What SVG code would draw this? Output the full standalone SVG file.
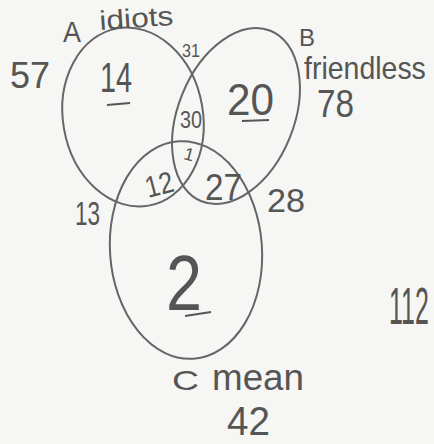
<svg xmlns="http://www.w3.org/2000/svg" width="434" height="444" viewBox="0 0 434 444">
<style>
.c{fill:none;stroke:#666;stroke-width:2}
.t{font-family:"Liberation Sans",Arial,sans-serif;fill:#555}
.u{stroke:#555;stroke-width:1.8}
</style>
<rect width="434" height="444" fill="#f6f6f4"/>
<g id="connectors"></g>
<g id="setA"><ellipse class="c" cx="133" cy="117" rx="70" ry="90" transform="rotate(-10 133 117)"/></g>
<g id="setB"><ellipse class="c" cx="236" cy="116" rx="58" ry="92" transform="rotate(22 236 116)"/></g>
<g id="setC"><ellipse class="c" cx="186" cy="250" rx="76" ry="109" transform="rotate(-4 186 250)"/></g>
<g id="labels">
<text class="t" x="63" y="42" font-size="30" textLength="18" lengthAdjust="spacingAndGlyphs">A</text>
<text class="t" x="100" y="30" font-size="27" textLength="74" lengthAdjust="spacingAndGlyphs" transform="rotate(-4 100 30)">idiots</text>
<text class="t" x="10" y="88" font-size="36" textLength="40" lengthAdjust="spacingAndGlyphs">57</text>
<text class="t" x="182" y="57" font-size="19" textLength="18" lengthAdjust="spacingAndGlyphs">31</text>
<text class="t" x="100" y="92" font-size="42" textLength="32" lengthAdjust="spacingAndGlyphs">14</text>
<line class="u" x1="107" y1="105" x2="130" y2="103"/>
<text class="t" x="299" y="46" font-size="24" textLength="16" lengthAdjust="spacingAndGlyphs">B</text>
<text class="t" font-size="32" transform="translate(304 79) scale(0.89 1)">friendless</text>
<text class="t" x="317" y="117" font-size="38" textLength="37" lengthAdjust="spacingAndGlyphs">78</text>
<text class="t" x="227" y="115" font-size="44" textLength="47" lengthAdjust="spacingAndGlyphs">20</text>
<line class="u" x1="242" y1="121" x2="269" y2="120"/>
<text class="t" x="180" y="128" font-size="24" textLength="22" lengthAdjust="spacingAndGlyphs">30</text>
<text class="t" x="184" y="160" font-size="18" transform="rotate(15 187 155)">1</text>
<text class="t" x="144" y="195" font-size="30" textLength="28" lengthAdjust="spacingAndGlyphs" transform="rotate(-15 158 180)">12</text>
<text class="t" x="205" y="200" font-size="36" textLength="37" lengthAdjust="spacingAndGlyphs">27</text>
<text class="t" x="75" y="225" font-size="34" textLength="25" lengthAdjust="spacingAndGlyphs">13</text>
<text class="t" x="267" y="212" font-size="34" textLength="38" lengthAdjust="spacingAndGlyphs">28</text>
<text class="t" x="166" y="310" font-size="78" textLength="36" lengthAdjust="spacingAndGlyphs">2</text>
<line class="u" x1="185" y1="316" x2="211" y2="312"/>
<text class="t" font-size="52" transform="translate(389 324) scale(0.48 1)">112</text>
<text class="t" x="172" y="390" font-size="28" textLength="27" lengthAdjust="spacingAndGlyphs">C</text>
<text class="t" x="212" y="390" font-size="36" textLength="92" lengthAdjust="spacingAndGlyphs">mean</text>
<text class="t" x="227" y="435" font-size="40" textLength="43" lengthAdjust="spacingAndGlyphs">42</text>
</g>
</svg>
